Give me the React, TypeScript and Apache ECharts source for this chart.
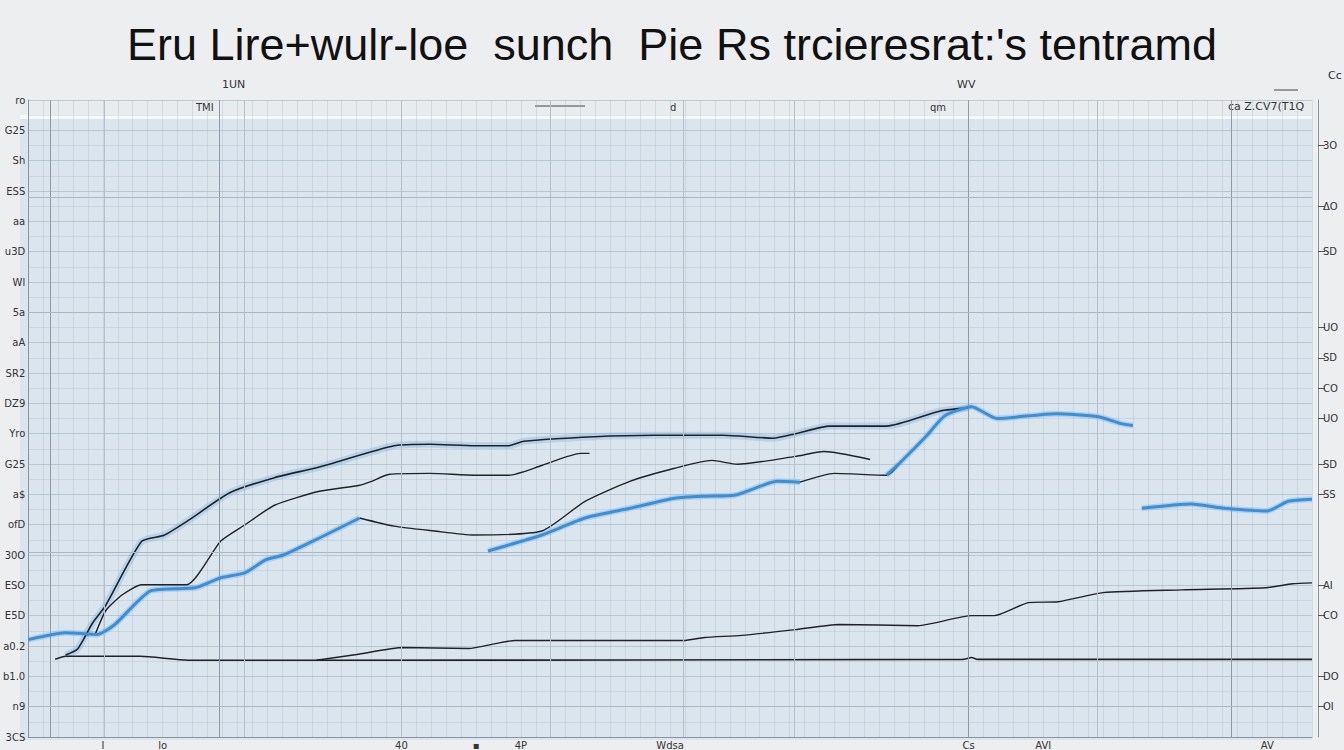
import React, { useEffect, useRef } from "react";
import * as echarts from "echarts";

const TITLE = "Eru Lire+wulr-loe  sunch  Pie Rs trcieresrat:'s tentramd";

// left axis tick labels, index = value / 10 (bottom to top)
const leftTickLabels = ["3CS", "n9", "b1.0", "a0.2", "E5D", "ESO", "30O", "ofD", "a$", "G25", "Yro", "DZ9", "SR2", "aA", "5a", "Wl", "u3D", "aa", "ESS", "Sh", "G25", "ro"];

// right axis: categories every 5 units, labels only on some
const rightCats = Array.from({ length: 43 }, (_, i) => String(i * 5));
const rightLabelIdx = [2, 4, 8, 10, 16, 18, 21, 23, 25, 27, 32, 35, 39];
const rightLabelText = ["OI", "DO", "CO", "AI", "SS", "SD", "UO", "CO", "SD", "UO", "SD", "ΔO", "3O"];

// bottom axis labels
const xTickValues = [5, 9, 25, 30, 33, 43, 63, 68, 83];
const xTickLabels = ["I", "lo", "40", "▪", "4P", "Wdsa", "Cs", "AVI", "AV"];

// series 1 (top black with halo)
const s1x = [2.5, 3.3, 4.3, 5.2, 7.6, 9.1, 10.6, 13.5, 16.5, 19.5, 24.5, 26.9, 29.9, 32.2, 33.2, 37.9, 41.9, 46.6, 49.9, 51.4, 53.7, 57.5, 61.1, 63.0];
const s1y = [27, 29, 37.5, 43.5, 64.5, 66.5, 71, 80.5, 85.5, 89, 96, 96.5, 96, 96, 97.5, 99, 99.5, 99.5, 98.5, 100, 102.5, 102.5, 107.5, 108.5];

// series 2 (second black)
const s2x = [4.5, 5.2, 6.3, 7.6, 10.6, 12.9, 14.5, 16.5, 19.5, 22.2, 23.0, 24.2, 26.9, 29.9, 32.2, 34.4, 37.0, 37.6];
const s2y = [34, 41.7, 46.9, 50.2, 50.2, 64.6, 69.9, 76.4, 81, 83, 84.3, 86.6, 86.9, 86.3, 86.3, 89.5, 93.5, 93.5];

// blue A
const bAx = [0, 2.5, 4.6, 5.8, 8.2, 11.2, 12.9, 14.5, 15.9, 17.1, 19.5, 22.2];
const bAy = [32.1, 34.4, 33.8, 37.1, 48.2, 49.2, 52.5, 54.1, 58.4, 60, 65.6, 72.2];

// black from blue peak
const s4x = [22.2, 24.5, 27.2, 29.8, 34.4, 37.3, 40.3, 43.3, 45.8, 47.5, 51.4, 53.3, 56.4];
const s4y = [72.2, 69.5, 67.9, 66.6, 67.9, 77.7, 84.3, 88.6, 91.2, 89.9, 92.5, 94.1, 91.5];

// blue B1, black middle, blue B2
const bB1x = [30.8, 34.4, 37.3, 40.3, 43.3, 45.3, 47.3, 50.2, 51.7];
const bB1y = [61.3, 66.6, 72.2, 75.4, 78.7, 79.4, 79.7, 84.3, 84];
const kMx = [51.7, 54.0, 57.5, 58.5];
const kMy = [84, 86.9, 86.3, 90.9];
const bB2x = [57.5, 58.5, 60.2, 61.4, 63.2, 64.9, 68.8, 71.7, 73.2, 74.0];
const bB2y = [86.3, 90.9, 99.4, 105.9, 108.9, 105, 106.6, 105.6, 103.3, 102.7];

// blue C
const bCx = [74.6, 77.9, 80.2, 83.0, 84.4, 86.0];
const bCy = [75.4, 76.8, 75.4, 74.5, 77.7, 78.4];

// lower rising black
const s5x = [19.3, 22.0, 25.1, 29.5, 31.3, 32.6, 37.3, 43.9, 45.3, 47.8, 51.4, 54.3, 59.6, 63.2, 64.7, 67.0, 69.0, 72.0, 77.3, 82.9, 84.7, 86.0];
const s5y = [25.3, 27.2, 29.5, 29.2, 30.8, 31.8, 31.8, 31.8, 32.8, 33.5, 35.4, 37.1, 36.7, 40, 40, 44.3, 44.6, 47.6, 48.5, 49.2, 50.5, 50.8];

// flat bottom black
const s6x = [1.8, 2.5, 7.5, 10.7, 18.6, 62.6, 63.2, 63.6, 86.0];
const s6y = [25.6, 26.6, 26.6, 25.3, 25.3, 25.6, 26.2, 25.6, 25.6];

// emphasised grid lines (data units)
const majorX = [1.5, 5.1, 12.8, 14.5, 25, 35, 43.9, 51.3, 63, 71.6, 80.6];
const majorXDark = [1.5, 12.8, 63, 80.6];
const majorY = [178, 140, 61, 10];

const zip = (xs: number[], ys: number[]) => xs.map((x, i) => [x, ys[i]]);

export default function App() {
  const ref = useRef<HTMLDivElement>(null);
  useEffect(() => {
    if (!ref.current) return;
    const chart = echarts.init(ref.current, undefined, { renderer: "svg" });
    const black = (name: string, xs: number[], ys: number[], w = 1.5) => ({
      name, type: "line", data: zip(xs, ys), symbol: "none", smooth: 0.2,
      lineStyle: { color: "#1e2328", width: w }, z: 4, silent: true,
    });
    const halo = (name: string, xs: number[], ys: number[], w: number, c: string) => ({
      name, type: "line", data: zip(xs, ys), symbol: "none", smooth: 0.2,
      lineStyle: { color: c, width: w }, z: 2, silent: true,
    });
    const blue = (name: string, xs: number[], ys: number[]) => ({
      name, type: "line", data: zip(xs, ys), symbol: "none", smooth: 0.2,
      lineStyle: { color: "#3a8fd9", width: 3 }, z: 5, silent: true,
    });
    const option: any = {
      animation: false,
      backgroundColor: "#eceef0",
      title: {
        text: TITLE, left: "center", top: 17,
        textStyle: { fontFamily: "Liberation Sans", fontSize: 45, fontWeight: "normal", color: "#111" },
      },
      graphic: [
        { type: "rect", z: -1, shape: { x: 20, y: 100, width: 1292, height: 17 }, style: { fill: "#e9eced" } },
        { type: "rect", z: -1, shape: { x: 20, y: 117, width: 1292, height: 623 }, style: { fill: "#dbe5ed" } },
        { type: "line", z: -1, shape: { x1: 20, y1: 117, x2: 1312, y2: 117 }, style: { stroke: "#f6f8f9", lineWidth: 4 } },
        { type: "text", x: 222, y: 79, style: { text: "1UN", font: "11px DejaVu Sans", fill: "#333" } },
        { type: "text", x: 957, y: 79, style: { text: "WV", font: "11px DejaVu Sans", fill: "#333" } },
        { type: "text", x: 196, y: 102, style: { text: "TMI", font: "10px DejaVu Sans", fill: "#333" } },
        { type: "text", x: 670, y: 102, style: { text: "d", font: "10px DejaVu Sans", fill: "#333" } },
        { type: "text", x: 930, y: 102, style: { text: "qm", font: "10px DejaVu Sans", fill: "#333" } },
        { type: "text", x: 1228, y: 101, style: { text: "ca Z.CV7(T1Q", font: "11px DejaVu Sans", fill: "#333" } },
        { type: "text", x: 1328, y: 70, style: { text: "Cc", font: "11px DejaVu Sans", fill: "#333" } },
        { type: "line", shape: { x1: 535, y1: 106, x2: 585, y2: 106 }, style: { stroke: "#444", lineWidth: 1 } },
        { type: "line", shape: { x1: 1274, y1: 90, x2: 1298, y2: 90 }, style: { stroke: "#444", lineWidth: 1 } },
      ],
      grid: { left: 20, right: 32, top: 100, bottom: 10, containLabel: false },
      xAxis: {
        type: "value", min: 0, max: 86, interval: 1,
        axisLine: { show: true, lineStyle: { color: "#8a949c" } },
        axisTick: { show: false },
        axisLabel: {
          fontSize: 10, color: "#333", margin: 3, fontFamily: "DejaVu Sans",
          formatter: (v: number) => { const i = xTickValues.indexOf(v); return i >= 0 ? xTickLabels[i] : ""; },
        },
        splitLine: { show: true, lineStyle: { color: "rgba(150,172,192,0.28)", width: 1 } },
      },
      yAxis: [
        {
          type: "value", min: 0, max: 210, interval: 10, position: "left",
          axisLine: { show: true, lineStyle: { color: "#8a949c" } },
          axisTick: { show: false },
          axisLabel: {
            fontSize: 10, color: "#333", margin: 3, fontFamily: "DejaVu Sans",
            formatter: (v: number) => leftTickLabels[Math.round(v / 10)] ?? "",
          },
          splitLine: { show: true, lineStyle: { color: "rgba(140,162,184,0.45)", width: 1 } },
          minorTick: { show: false, splitNumber: 2 },
          minorSplitLine: { show: true, lineStyle: { color: "rgba(150,172,192,0.25)" } },
        },
        {
          type: "category", data: rightCats, boundaryGap: false, position: "right", offset: 6,
          axisLine: { show: true, lineStyle: { color: "#8a949c" } },
          axisTick: { show: true, length: 7, interval: (i: number) => rightLabelIdx.includes(i), lineStyle: { color: "#555" } },
          axisLabel: {
            fontSize: 10, color: "#333", margin: 5, fontFamily: "DejaVu Sans",
            interval: (i: number) => rightLabelIdx.includes(i),
            formatter: (_v: string, i: number) => { const k = rightLabelIdx.indexOf(i); return k >= 0 ? rightLabelText[k] : ""; },
          },
          splitLine: { show: false },
        },
      ],
      series: [
        {
          name: "grid-major", type: "line", data: [], silent: true, z: 1,
          markLine: {
            silent: true, symbol: "none", label: { show: false },
            data: [
              ...majorX.map((x) => ({ xAxis: x, lineStyle: { color: majorXDark.includes(x) ? "#8e9aa5" : "#b3c0cb", width: 1, type: "solid" } })),
              ...majorY.map((y) => ({ yAxis: y, lineStyle: { color: "#a9b7c3", width: 1, type: "solid" } })),
            ],
          },
        },
        halo("s1-halo", s1x, s1y, 7, "rgba(120,175,225,0.35)"),
        black("s1", s1x, s1y, 1.6),
        black("s2", s2x, s2y, 1.4),
        halo("bA-halo", bAx, bAy, 6, "rgba(90,160,225,0.3)"),
        blue("bA", bAx, bAy),
        black("s4", s4x, s4y, 1.4),
        halo("bB1-halo", bB1x, bB1y, 6, "rgba(90,160,225,0.3)"),
        blue("bB1", bB1x, bB1y),
        black("kM", kMx, kMy, 1.4),
        halo("bB2-halo", bB2x, bB2y, 6, "rgba(90,160,225,0.3)"),
        blue("bB2", bB2x, bB2y),
        halo("bC-halo", bCx, bCy, 6, "rgba(90,160,225,0.3)"),
        blue("bC", bCx, bCy),
        black("s5", s5x, s5y, 1.4),
        black("s6", s6x, s6y, 1.6),
      ],
    };
    chart.setOption(option);
    return () => chart.dispose();
  }, []);
  return <div ref={ref} style={{ width: 1344, height: 750, position: "absolute", left: 0, top: 0 }} />;
}
